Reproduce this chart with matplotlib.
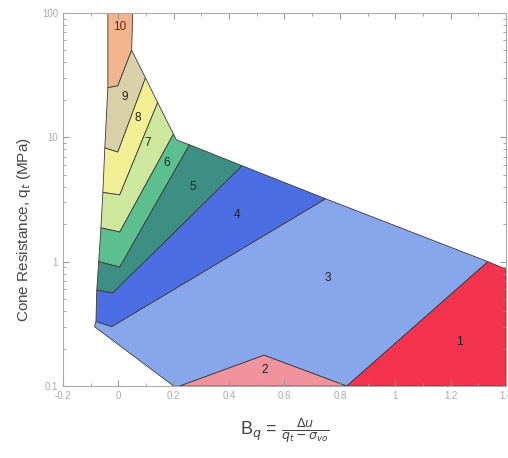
import matplotlib
matplotlib.use("Agg")
import matplotlib.pyplot as plt
from matplotlib.patches import Polygon
from matplotlib.ticker import MultipleLocator, FixedLocator, LogLocator, NullFormatter

plt.rcParams['font.family'] = ['Liberation Sans', 'DejaVu Sans']

# zone boundary points (Bq, qt in MPa)
# outer top edge
top_left = (-0.038, 100)
top_right = (0.052, 100)
r10_9 = (0.048, 50)
r9_8 = (0.098, 30)
r8_7 = (0.142, 19)
r7_6 = (0.199, 10.6)
corner = (0.21, 9.5)
r6_5 = (0.257, 8.7)
r5_4 = (0.447, 5.9)
r4_3 = (0.749, 3.2)
z1_top = (1.335, 1.0)
right_edge = (1.4, 0.87)

# outer left edge
l10_9 = (-0.038, 25)
l9_8 = (-0.049, 8.2)
l8_7 = (-0.056, 3.6)
l7_6 = (-0.063, 1.87)
l6_5 = (-0.071, 1.0)
l5_4 = (-0.078, 0.59)
l4_3 = (-0.081, 0.33)
z3_left = (-0.086, 0.30)

# kinks
k10_9 = (-0.002, 25.9)
k9_8 = (-0.002, 7.6)
k8_7 = (0.005, 3.44)
k7_6 = (0.005, 1.73)
k6_5 = (0.005, 0.905)
k5_4 = (-0.02, 0.56)
k4_3 = (-0.024, 0.30)

# bottom
z3_bottom = (0.20, 0.1)
z2_left = (0.221, 0.1)
z2_peak = (0.526, 0.177)
z2_right = (0.825, 0.1)
corner_br = (1.4, 0.1)

zones = {
    "10": [top_left, top_right, r10_9, k10_9, l10_9],
    "9": [l10_9, k10_9, r10_9, r9_8, k9_8, l9_8],
    "8": [l9_8, k9_8, r9_8, r8_7, k8_7, l8_7],
    "7": [l8_7, k8_7, r8_7, r7_6, k7_6, l7_6],
    "6": [l7_6, k7_6, r7_6, corner, r6_5, k6_5, l6_5],
    "5": [l6_5, k6_5, r6_5, r5_4, k5_4, l5_4],
    "4": [l5_4, k5_4, r5_4, r4_3, k4_3, l4_3],
    "3": [l4_3, k4_3, r4_3, z1_top, z2_right, z2_peak, z2_left, z3_bottom, z3_left],
    "2": [z2_left, z2_peak, z2_right],
    "1": [z2_right, z1_top, right_edge, corner_br],
}

zone_colors = {
    "10": "#f2b48c", "9": "#d9d0a8", "8": "#f1ee94", "7": "#cde79c",
    "6": "#5cbf8f", "5": "#3d8f84", "4": "#4b6fe3", "3": "#88a6ec",
    "2": "#f1939c", "1": "#f4344f",
}

label_pos = {
    "10": (0.006, 77), "9": (0.024, 21), "8": (0.071, 14.3), "7": (0.107, 9.0),
    "6": (0.175, 6.2), "5": (0.269, 4.0), "4": (0.428, 2.37), "3": (0.757, 0.74),
    "2": (0.529, 0.135), "1": (1.233, 0.226),
}

fig = plt.figure(figsize=(5.08, 4.58), dpi=100)
ax = fig.add_axes([0.124, 0.157, 0.872, 0.815])

for name, pts in zones.items():
    ax.add_patch(Polygon(pts, closed=True, facecolor=zone_colors[name],
                         edgecolor="#3a3a3a", linewidth=0.6))
    lx, ly = label_pos[name]
    ax.text(lx, ly, name, ha="center", va="center", fontsize=8.5,
            color="#5a2a10" if name == "10" else "#222222")

ax.set_xlim(-0.2, 1.4)
ax.set_yscale("log")
ax.set_ylim(0.1, 100)

ax.xaxis.set_major_locator(FixedLocator([-0.2, 0, 0.2, 0.4, 0.6, 0.8, 1.0, 1.2, 1.4]))
ax.set_xticklabels(["-0.2", "0", "0.2", "0.4", "0.6", "0.8", "1", "1.2", "1.4"])
ax.xaxis.set_minor_locator(MultipleLocator(0.1))
ax.yaxis.set_major_locator(FixedLocator([0.1, 1, 10, 100]))
ax.set_yticklabels(["0.1", "1", "10", "100"])
ax.yaxis.set_minor_locator(LogLocator(base=10, subs=range(2, 10)))
ax.yaxis.set_minor_formatter(NullFormatter())

ax.tick_params(which="both", direction="in", top=True, right=True,
               colors="#999999", labelsize=7, labelcolor="#aaaaaa")
ax.tick_params(which="major", length=4)
ax.tick_params(which="minor", length=2)
for s in ax.spines.values():
    s.set_color("#aaaaaa")
    s.set_linewidth(0.8)

ax.set_ylabel(r"Cone Resistance, q$_t$ (MPa)", fontsize=11, color="#444444")
ax.yaxis.set_label_coords(-0.068, 0.42)
ax.set_xlabel(r"B$_q$ = $\frac{\Delta u}{q_t - \sigma_{vo}}$", fontsize=13,
              color="#444444")
ax.xaxis.set_label_coords(0.5, -0.08)

fig.savefig("out.png", dpi=100)
